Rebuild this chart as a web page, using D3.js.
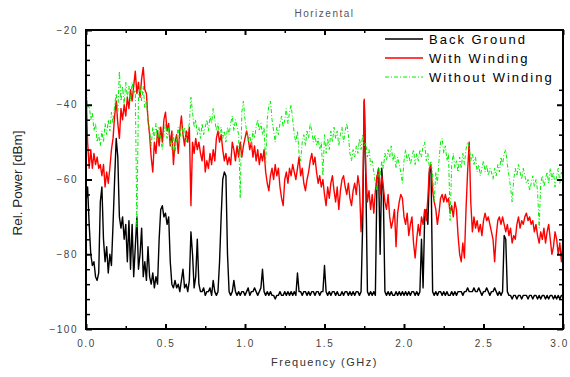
<!DOCTYPE html>
<html lang="en">
<head>
<meta charset="UTF-8">
<title>Horizental</title>
<script src="https://cdn.jsdelivr.net/npm/d3@7"></script>
<style>
    body { margin: 0; background: #fff; }
    text { font-family: Arial, "Liberation Sans", sans-serif; }
</style>
</head>
<body>
<script>
    // samples every 10 MHz from 0 to 3 GHz, values in dBm
    const freqStep = 0.01;

    const backGround = [
        -66, -62, -72, -80, -83, -82, -86, -87, -85, -66,
        -62, -76, -82, -78, -85, -80, -83, -72, -60, -49,
        -54, -70, -73, -70, -76, -72, -82, -71, -84, -72,
        -86, -78, -70, -84, -80, -73, -86, -82, -87, -78,
        -86, -88, -85, -89, -86, -88, -76, -68, -67, -70,
        -69, -72, -70, -82, -88, -89, -87, -89, -88, -90,
        -87, -84, -89, -88, -90, -87, -74, -80, -89, -86,
        -76, -88, -90, -90, -89, -91, -90, -90, -89, -91,
        -87, -90, -91, -90, -82, -70, -60, -58, -59, -80,
        -90, -91, -90, -87, -90, -91, -90, -91, -90, -90,
        -91, -90, -89, -91, -90, -90, -89, -90, -91, -90,
        -89, -84, -90, -91, -90, -91, -90, -91, -91, -92,
        -91, -91, -90, -91, -91, -90, -91, -90, -91, -90,
        -91, -90, -91, -85, -90, -90, -91, -90, -90, -91,
        -90, -91, -90, -90, -91, -90, -90, -91, -90, -90,
        -83, -90, -91, -90, -91, -90, -90, -91, -90, -91,
        -91, -90, -91, -90, -90, -91, -90, -91, -90, -91,
        -90, -90, -91, -90, -72, -39, -60, -90, -91, -90,
        -91, -90, -91, -60, -57, -80, -57, -64, -90, -91,
        -90, -91, -90, -91, -91, -90, -91, -90, -91, -90,
        -91, -90, -91, -90, -91, -90, -90, -91, -90, -91,
        -90, -76, -89, -70, -68, -72, -58, -57, -90, -91,
        -90, -91, -90, -90, -91, -90, -91, -90, -91, -91,
        -90, -91, -90, -91, -90, -90, -90, -91, -90, -90,
        -89, -90, -90, -90, -89, -90, -90, -89, -90, -91,
        -90, -90, -89, -90, -91, -90, -90, -89, -90, -91,
        -90, -91, -90, -75, -76, -90, -91, -91, -92, -91,
        -91, -92, -91, -91, -92, -91, -91, -91, -92, -91,
        -91, -92, -91, -91, -92, -91, -92, -91, -91, -92,
        -91, -92, -91, -91, -92, -91, -92, -91, -92, -91,
        -91
    ];

    const withWinding = [
        -35, -50, -57, -52, -57, -53, -56, -54, -57, -56,
        -59, -56, -62, -58, -61, -57, -52, -49, -43, -39,
        -45, -49, -41, -44, -40, -43, -38, -41, -36, -39,
        -35, -31, -37, -34, -38, -33, -30, -36, -37, -44,
        -48, -54, -58, -50, -53, -47, -51, -46, -50, -44,
        -42, -47, -45, -51, -47, -56, -50, -48, -53, -47,
        -43, -48, -51, -47, -50, -46, -67, -50, -53, -49,
        -52, -50, -53, -55, -51, -58, -55, -57, -53, -56,
        -52, -55, -49, -47, -50, -48, -52, -55, -53, -56,
        -54, -56, -50, -52, -55, -51, -54, -50, -54, -51,
        -49, -47, -49, -52, -50, -54, -51, -55, -52, -56,
        -53, -55, -52, -58, -61, -63, -59, -57, -60, -56,
        -59, -57, -62, -65, -67, -60, -58, -61, -57, -59,
        -56, -58, -60, -57, -54, -59, -57, -61, -63, -60,
        -58, -55, -53, -56, -54, -58, -61, -59, -62, -60,
        -64, -67, -62, -65, -61, -59, -63, -66, -62, -68,
        -63, -60, -59, -62, -64, -61, -65, -67, -63, -61,
        -64, -59, -62, -74, -66, -38.5, -58, -66, -63, -68,
        -64, -69, -63, -59, -58, -64, -59, -62, -66, -68,
        -64, -70, -73, -71, -68, -78, -69, -66, -64, -65,
        -70, -72, -69, -75, -72, -70, -77, -81, -76, -72,
        -75, -70, -72, -68, -71, -65, -57, -56, -63, -66,
        -68, -72, -69, -65, -64, -66, -64, -66, -65, -69,
        -67, -70, -66, -68, -75, -80, -82, -77, -81, -68,
        -58, -50, -66, -74, -70, -73, -71, -74, -72, -75,
        -71, -69, -71, -70, -72, -74, -76, -82, -75, -71,
        -70, -72, -70, -72, -74, -72, -75, -73, -77, -75,
        -76, -72, -70, -73, -71, -72, -70, -69, -71, -70,
        -72, -71, -74, -72, -75, -77, -74, -76, -73, -77,
        -74, -72, -76, -80, -78, -74, -76, -80, -77, -82,
        -76
    ];

    const withoutWinding = [
        -34, -41, -40, -44, -42, -47, -45, -50, -48, -51,
        -47, -50, -45, -48, -44, -47, -42, -45, -40, -37,
        -42, -31, -39, -35, -40, -34, -38, -35, -39, -34,
        -37, -36, -73, -38, -35, -39, -35, -41, -39, -44,
        -47, -51, -46, -49, -45, -50, -46, -49, -52, -48,
        -45, -49, -46, -50, -52, -48, -53, -49, -46, -50,
        -45, -48, -46, -50, -47, -45, -38, -42, -46, -44,
        -48, -46, -49, -45, -48, -46, -44, -47, -43, -45,
        -41, -44, -47, -45, -48, -46, -49, -47, -50, -46,
        -48, -45, -43, -47, -44, -46, -48, -65, -42, -39,
        -44, -47, -50, -48, -51, -47, -49, -46, -44, -47,
        -45, -48, -46, -56, -44, -40, -39, -44, -47, -50,
        -46, -48, -45, -43, -46, -44, -41, -45, -42, -40,
        -44, -48, -50, -47, -53, -55, -50, -48, -51, -47,
        -49, -45, -47, -50, -48, -51, -49, -52, -50, -59,
        -48, -53, -49, -52, -47, -50, -46, -49, -47, -51,
        -48, -46, -50, -47, -45, -48, -53, -55, -52, -54,
        -51, -53, -49, -52, -48, -51, -50, -54, -52, -56,
        -55, -58, -61, -63, -57, -59, -55, -57, -53, -55,
        -52, -54, -51, -55, -53, -57, -54, -56, -58, -61,
        -55, -52, -55, -53, -56, -54, -52, -56, -53, -55,
        -52, -54, -51, -50, -55, -53, -57, -55, -59, -66,
        -58, -61, -55, -50, -49, -53, -51, -55, -53, -71,
        -56, -53, -57, -55, -58, -54, -57, -53, -56, -52,
        -50, -51, -55, -53, -56, -54, -58, -56, -59, -57,
        -55, -58, -56, -59, -57, -58, -60, -57, -59, -56,
        -58, -54, -56, -53, -52, -56, -59, -62, -66, -60,
        -57, -59, -56, -58, -60, -57, -59, -61, -60, -63,
        -61, -59, -62, -60, -63, -73, -61, -59, -62, -60,
        -58, -61, -57, -60, -58, -62, -59, -57, -61, -58,
        -60
    ];

    const seriesNames = ["Back Ground", "With Winding", "Without Winding"];
    const xTicks = [0, 0.5, 1.0, 1.5, 2.0, 2.5, 3.0];
    const xMinorTicks = [0.25, 0.75, 1.25, 1.75, 2.25, 2.75];
    const yTicks = [-100, -80, -60, -40, -20];
    const yMinorTicks = [-96, -92, -88, -84, -76, -72, -68, -64, -56, -52, -48, -44, -36, -32, -28, -24];

    const dim = {width: 570, height: 377, left: 86, right: 563, top: 30, bottom: 329};

    const svg = d3.select("body").append("svg")
        .attr("width", dim.width)
        .attr("height", dim.height);

    const x = d3.scaleLinear().domain([0, 3]).range([dim.left, dim.right]);
    const y = d3.scaleLinear().domain([-100, -20]).range([dim.bottom, dim.top]);

    svg.append("clipPath").attr("id", "plot")
        .append("rect")
        .attr("x", dim.left).attr("y", dim.top)
        .attr("width", dim.right - dim.left).attr("height", dim.bottom - dim.top);

    const line = d3.line()
        .x((d, i) => x(i * freqStep))
        .y(d => y(d));

    const series = [
        {name: seriesNames[0], values: backGround, color: "#000", width: 1.4, dash: null},
        {name: seriesNames[1], values: withWinding, color: "#ff0000", width: 1.4, dash: null},
        {name: seriesNames[2], values: withoutWinding, color: "#00ee00", width: 1, dash: "4,2,1,2"}
    ];

    svg.append("g").attr("clip-path", "url(#plot)")
        .selectAll("path")
        .data(series)
        .join("path")
        .attr("d", d => line(d.values))
        .attr("fill", "none")
        .attr("stroke", d => d.color)
        .attr("stroke-width", d => d.width)
        .attr("stroke-dasharray", d => d.dash)
        .attr("stroke-linejoin", "round");

    // inward ticks on all four sides
    function styleAxis(g, w) {
        g.select(".domain").remove();
        g.selectAll("line").attr("stroke", "#000").attr("stroke-width", w);
        g.selectAll("text")
            .attr("font-family", "Arial, 'Liberation Sans', sans-serif")
            .attr("font-size", 10)
            .attr("fill", "#444")
            .attr("letter-spacing", 1.5);
    }

    svg.append("g").attr("transform", `translate(0,${dim.bottom})`)
        .call(d3.axisBottom(x).tickValues(xTicks).tickSize(-5).tickPadding(11).tickFormat(d3.format(".1f")))
        .call(g => styleAxis(g, 2))
        .call(g => g.selectAll("text").filter(d => d === 3).attr("dx", -4));
    svg.append("g").attr("transform", `translate(0,${dim.bottom})`)
        .call(d3.axisBottom(x).tickValues(xMinorTicks).tickSize(-3).tickFormat(""))
        .call(g => styleAxis(g, 1.5));
    svg.append("g").attr("transform", `translate(0,${dim.top})`)
        .call(d3.axisTop(x).tickValues(xTicks).tickSize(-5).tickFormat(""))
        .call(g => styleAxis(g, 2));
    svg.append("g").attr("transform", `translate(0,${dim.top})`)
        .call(d3.axisTop(x).tickValues(xMinorTicks).tickSize(-3).tickFormat(""))
        .call(g => styleAxis(g, 1.5));

    svg.append("g").attr("transform", `translate(${dim.left},0)`)
        .call(d3.axisLeft(y).tickValues(yTicks).tickSize(-6).tickPadding(8))
        .call(g => styleAxis(g, 2));
    svg.append("g").attr("transform", `translate(${dim.left},0)`)
        .call(d3.axisLeft(y).tickValues(yMinorTicks).tickSize(-4).tickFormat(""))
        .call(g => styleAxis(g, 1.5));
    svg.append("g").attr("transform", `translate(${dim.right},0)`)
        .call(d3.axisRight(y).tickValues(yTicks).tickSize(-6).tickFormat(""))
        .call(g => styleAxis(g, 2));
    svg.append("g").attr("transform", `translate(${dim.right},0)`)
        .call(d3.axisRight(y).tickValues(yMinorTicks).tickSize(-4).tickFormat(""))
        .call(g => styleAxis(g, 1.5));

    // legend sits on a white patch that hides the ticks behind it
    const legend = svg.append("g");
    legend.append("rect")
        .attr("x", 372).attr("y", dim.top + 1)
        .attr("width", dim.right - 372).attr("height", 55)
        .attr("fill", "#fff");
    const rows = legend.selectAll("g.row")
        .data(series)
        .join("g")
        .attr("class", "row")
        .attr("transform", (d, i) => `translate(385,${39 + i * 19})`);
    rows.append("line")
        .attr("x1", 0).attr("x2", 38)
        .attr("stroke", d => d.color)
        .attr("stroke-width", d => d.width)
        .attr("stroke-dasharray", d => d.dash);
    rows.append("text")
        .attr("x", 44).attr("y", 5)
        .attr("font-size", 13)
        .attr("letter-spacing", 2)
        .attr("fill", "#000")
        .text(d => d.name);

    svg.append("rect")
        .attr("x", dim.left).attr("y", dim.top)
        .attr("width", dim.right - dim.left).attr("height", dim.bottom - dim.top)
        .attr("fill", "none")
        .attr("stroke", "#000")
        .attr("stroke-width", 2);

    svg.append("text")
        .attr("x", (dim.left + dim.right) / 2).attr("y", 17)
        .attr("text-anchor", "middle")
        .attr("font-size", 10)
        .attr("letter-spacing", 1.5)
        .attr("fill", "#555")
        .text("Horizental");

    svg.append("text")
        .attr("x", (dim.left + dim.right) / 2).attr("y", 366)
        .attr("text-anchor", "middle")
        .attr("font-size", 11)
        .attr("letter-spacing", 1.5)
        .attr("fill", "#333")
        .text("Frequency (GHz)");

    svg.append("text")
        .attr("transform", "translate(22,183) rotate(-90)")
        .attr("text-anchor", "middle")
        .attr("font-size", 13.5)
        .attr("fill", "#222")
        .text("Rel. Power [dBm]");
</script>
</body>
</html>
